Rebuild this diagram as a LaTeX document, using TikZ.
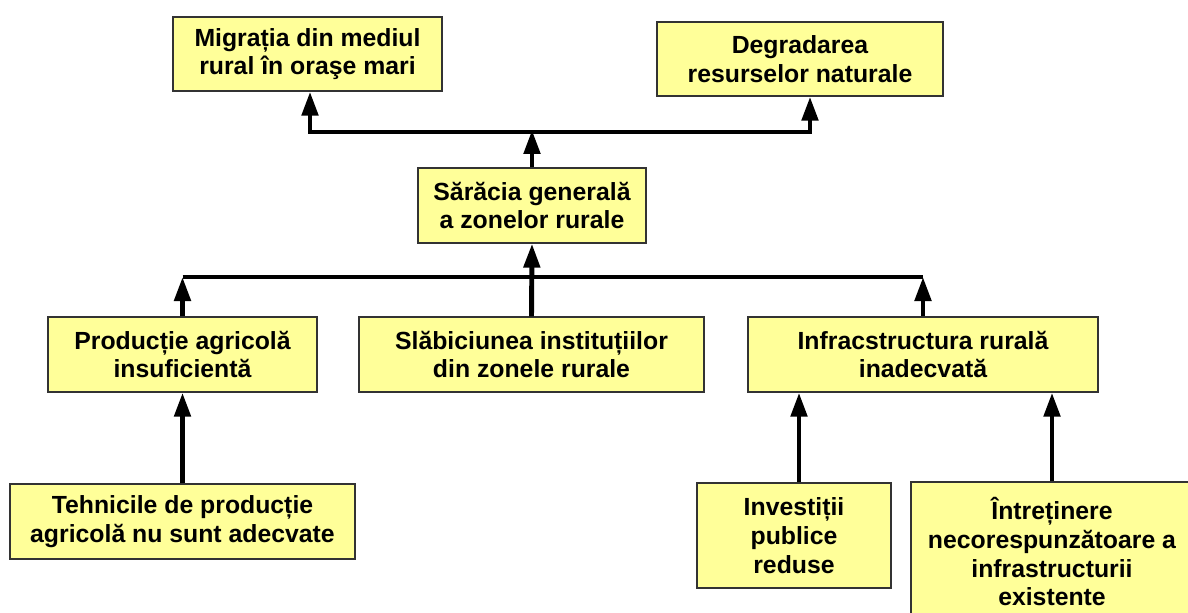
\documentclass[tikz,border=0pt]{standalone}
\usepackage{fontspec}
\setmainfont{Liberation Sans}
\usetikzlibrary{arrows.meta}
\definecolor{boxfill}{HTML}{FFFF99}
\def\px{0.75pt}
\tikzset{
    cause/.style 2 args={draw=black!80,line width=1pt,fill=boxfill,align=center,inner sep=0pt,
        font=\bfseries\fontsize{18.6}{21.5}\selectfont,minimum width=#1*\px,minimum height=#2*\px},
    bus/.style={line width=3.7pt,line join=miter},
    link/.style={bus,-{Triangle[length=18pt,width=12pt]}}
}

\begin{document}
\begin{tikzpicture}[x=\px,y=-\px]
  \useasboundingbox (0,0) rectangle (1188,613);

  % Effects
  \node[cause={269}{74}] (mig) at (307.5,54) {Migrația din mediul\\rural în oraşe mari};
  \node[cause={286}{74}] (deg) at (800,59) {Degradarea\\resurselor naturale};
  \node[cause={228}{75}] (sar) at (532,205.5) {Sărăcia generală\\a zonelor rurale};

  % Causes
  \node[cause={269}{75}] (prod) at (182.5,354.5) {Producție agricolă\\insuficientă};
  \node[cause={345}{75}] (slab) at (531.5,354.5) {Slăbiciunea instituțiilor\\din zonele rurale};
  \node[cause={350}{75}] (infra) at (923,354.5) {Infracstructura rurală\\inadecvată};
  \node[cause={345}{75}] (teh) at (182.5,521.5) {Tehnicile de producție\\agricolă nu sunt adecvate};
  \node[cause={194}{105}] (inv) at (794,535.5) {Investiții\\publice\\reduse};
  \node[cause={282}{140}] (intr) at (1052,552) {Întreținere\\necorespunzătoare a\\infrastructurii\\existente};

  % Upper bus
  \coordinate (tbl) at (310,132);
  \coordinate (tbr) at (810,132);
  \coordinate (tbm) at (532,130);
  \draw[link] (tbr) -- (tbl) -- (tbl |- mig.south);
  \draw[link] (tbl) -- (tbr) -- (tbr |- deg.south);
  \draw[link] (sar.north) -- (tbm);

  % Lower bus
  \coordinate (lbl) at (182.5,277);
  \coordinate (lbr) at (923,277);
  \draw[bus] (lbl) -- (lbr);
  \draw[link] (prod.north) -- (lbl);
  \draw[link] (infra.north) -- (lbr);
  \draw[link] (slab.north) -- (sar.south);

  % Lower causes
  \draw[link] (teh.north) -- (prod.south);
  \draw[link] ([xshift=5*\px]inv.north) -- ([xshift=5*\px]inv.north |- infra.south);
  \draw[link] (intr.north) -- (intr.north |- infra.south);
\end{tikzpicture}
\end{document}
